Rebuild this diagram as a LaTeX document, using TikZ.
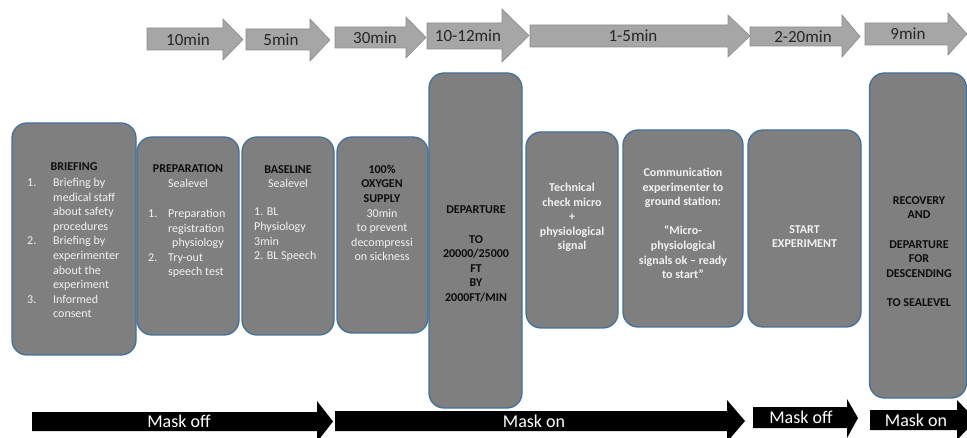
\documentclass[tikz,border=0pt]{standalone}
\usepackage{fontspec}
\setmainfont{Carlito}
\definecolor{boxfill}{HTML}{7F7F7F}
\definecolor{boxline}{HTML}{41719C}
\definecolor{topfill}{HTML}{A6A6A6}
\definecolor{topline}{HTML}{8C8C8C}
\definecolor{lighttext}{HTML}{F2F2F2}
\definecolor{titletext}{HTML}{0D0D0D}
\definecolor{toptext}{HTML}{262626}
\newcommand\ttl[1]{\textcolor{titletext}{\textbf{#1}}}
\newcommand\numbox[2]{\makebox[#1][l]{#2}}
\tikzset{
  phasebox/.style={draw=boxline, fill=boxfill, line width=1.3pt, rounded corners=15pt, inner sep=0pt},
  toparrow/.style={fill=topfill, draw=topline, line width=0.6pt},
  toplabel/.style={font=\fontsize{17}{20}\selectfont, text=toptext, inner sep=0pt},
  maskarrow/.style={fill=black},
  masklabel/.style={font=\fontsize{18}{21}\selectfont, text=white, inner sep=0pt},
  whitetext/.style={font=\fontsize{12}{14.6}\selectfont, text=lighttext, align=center, inner sep=0pt},
  whitebold/.style={whitetext, font=\fontsize{12}{14.6}\selectfont\bfseries},
  blackbold/.style={whitebold, text=titletext},
  listtext/.style={whitetext, align=left, anchor=west}
}
\begin{document}
\begin{tikzpicture}[x=1pt, y=-1pt]
\useasboundingbox (0,0) rectangle (967,438);
\clip (0,0) rectangle (967,438);

% ---- top duration arrows ----
\path[toparrow] (147,28) -- (223,28) -- (223,19) -- (243,39.5) -- (223,60) -- (223,50) -- (147,50) -- cycle;
\node[toplabel] (d1) at (188,39.5) {10min};
\path[toparrow] (246,29) -- (310,29) -- (310,19) -- (330,40) -- (310,61) -- (310,50) -- (246,50) -- cycle;
\node[toplabel] (d2) at (281,39.5) {5min};
\path[toparrow] (335,27) -- (406,27) -- (406,17) -- (426,37.5) -- (406,58) -- (406,48) -- (335,48) -- cycle;
\node[toplabel] (d3) at (375,37.5) {30min};
\path[toparrow] (427,23) -- (502,23) -- (502,9) -- (529,35.5) -- (502,62) -- (502,49) -- (427,49) -- cycle;
\node[toplabel] (d4) at (468,36) {10-12min};
\path[toparrow] (530,25) -- (728,25) -- (728,15) -- (750,36) -- (728,57) -- (728,47) -- (530,47) -- cycle;
\node[toplabel] (d5) at (633,36) {1-5min};
\path[toparrow] (750,27) -- (842,27) -- (842,15) -- (860,36.5) -- (842,57) -- (842,46) -- (750,46) -- cycle;
\node[toplabel] (d6) at (803,36.5) {2-20min};
\path[toparrow] (865,23) -- (948,23) -- (948,13) -- (967,34) -- (948,55) -- (948,45) -- (865,45) -- cycle;
\node[toplabel] (d7) at (908,34) {9min};

% ---- phase boxes ----
\node[phasebox, minimum width=124pt, minimum height=232pt] (brief) at (74,239) {};
\node[phasebox, minimum width=102pt, minimum height=198pt] (prep) at (188,236) {};
\node[phasebox, minimum width=92pt, minimum height=198pt] (base) at (288,236) {};
\node[phasebox, minimum width=91pt, minimum height=196pt] (oxy) at (382.5,235) {};
\node[phasebox, minimum width=93pt, minimum height=335pt] (dep) at (475.5,240.5) {};
\node[phasebox, minimum width=92pt, minimum height=196pt] (tech) at (572,230) {};
\node[phasebox, minimum width=120pt, minimum height=197pt] (comm) at (683,228.5) {};
\node[phasebox, minimum width=113pt, minimum height=197pt] (start) at (804.5,228.5) {};
\node[phasebox, minimum width=97pt, minimum height=325pt] (recov) at (918,235.5) {};

% ---- box texts ----
\node[blackbold] (brieft) at (74,167) {BRIEFING};
\node[listtext] (briefl) at (27,248) {\numbox{26pt}{1.}Briefing by\\\hspace*{26pt}medical staff\\\hspace*{26pt}about safety\\\hspace*{26pt}procedures\\\numbox{26pt}{2.}Briefing by\\\hspace*{26pt}experimenter\\\hspace*{26pt}about the\\\hspace*{26pt}experiment\\\numbox{26pt}{3.}Informed\\\hspace*{26pt}consent};

\node[whitetext] (prept) at (188,176) {\ttl{PREPARATION}\\Sealevel};
\node[listtext] (prepl) at (148,243.5) {\numbox{20pt}{1.}Preparation\\\hspace*{20pt}registration\\\hspace*{24pt}physiology\\\numbox{20pt}{2.}Try-out\\\hspace*{20pt}speech test};

\node[whitetext] (baset) at (288,176.5) {\ttl{BASELINE}\\Sealevel};
\node[listtext] (basel) at (254,235) {1. BL\\Physiology\\3min\\2. BL Speech};

\node[whitetext] (oxyt) at (382,213) {\ttl{100\%}\\\ttl{OXYGEN}\\\ttl{SUPPLY}\\30min\\to prevent\\decompressi\\on sickness};

\node[blackbold] (dept) at (476,254) {DEPARTURE\\[14.6pt]TO\\20000/25000\\FT\\BY\\2000FT/MIN};
\node[whitebold] (techt) at (572,217.5) {Technical\\check micro\\+\\physiological\\signal};
\node[whitebold] (commt) at (683,223.5) {Communication\\experimenter to\\ground station:\\[14.6pt]“Micro-\\physiological\\signals ok – ready\\to start”};
\node[whitebold] (startt) at (804.5,236.5) {START\\EXPERIMENT};
\node[blackbold] (recovt) at (919,251.5) {RECOVERY\\AND\\[14.6pt]DEPARTURE\\FOR\\DESCENDING\\[14.6pt]TO SEALEVEL};

% ---- bottom mask arrows ----
\path[maskarrow] (32,412) -- (317,412) -- (317,401) -- (333,421.5) -- (317,442) -- (317,431) -- (32,431) -- cycle;
\node[masklabel] (m1) at (179,421) {Mask off};
\path[maskarrow] (335,411) -- (727,411) -- (727,400) -- (745,421) -- (727,442) -- (727,431) -- (335,431) -- cycle;
\node[masklabel] (m2) at (534,421) {Mask on};
\path[maskarrow] (753,407) -- (847,407) -- (847,399) -- (858,418) -- (847,438) -- (847,428) -- (753,428) -- cycle;
\node[masklabel] (m3) at (801,417.5) {Mask off};
\path[maskarrow] (870,410) -- (957,410) -- (957,400) -- (976,420) -- (957,440) -- (957,430) -- (870,430) -- cycle;
\node[masklabel] (m4) at (916,420) {Mask on};
\end{tikzpicture}
\end{document}
